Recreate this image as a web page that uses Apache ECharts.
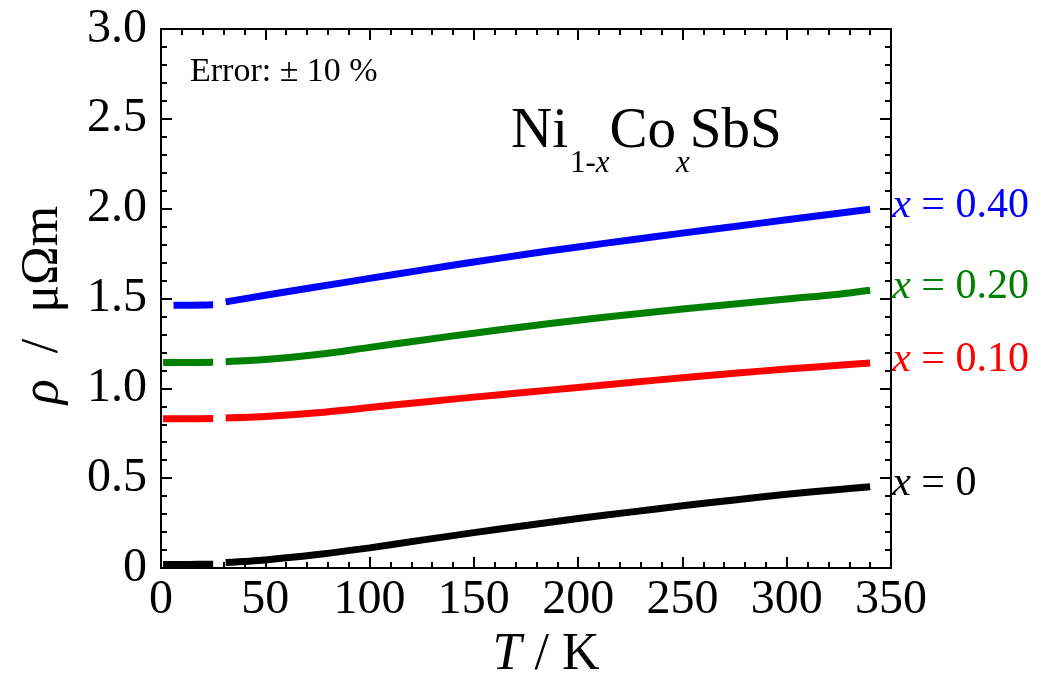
<!DOCTYPE html>
<html>
<head>
<meta charset="utf-8">
<script src="https://cdn.jsdelivr.net/npm/echarts@6/dist/echarts.min.js"></script>
<style>
  html, body { margin: 0; padding: 0; background: #fff; }
  #chart { width: 1041px; height: 686px; }
</style>
</head>
<body>
<div id="chart"></div>
<script>
// Temperature grids (K): a short low-temperature run and the main sweep
const lowT = [1, 13, 25];
const lowTBlue = [6, 15, 25];
const highT = [31, 50, 75, 100, 125, 150, 175, 200, 225, 250, 275, 300, 325, 340];

// Resistivity (µΩm) for Ni(1-x)Co(x)SbS
const rhoX0Low = [0.020, 0.020, 0.021];
const rhoX0High = [0.031, 0.045, 0.075, 0.112, 0.155, 0.197, 0.237, 0.275, 0.311, 0.346, 0.379, 0.410, 0.437, 0.452];
const rhoX10Low = [0.831, 0.831, 0.832];
const rhoX10High = [0.835, 0.843, 0.864, 0.893, 0.923, 0.951, 0.978, 1.005, 1.032, 1.059, 1.084, 1.107, 1.128, 1.141];
const rhoX20Low = [1.144, 1.144, 1.145];
const rhoX20High = [1.148, 1.160, 1.188, 1.228, 1.268, 1.307, 1.344, 1.379, 1.411, 1.441, 1.469, 1.497, 1.524, 1.546];
const rhoX40Low = [1.463, 1.463, 1.465];
const rhoX40High = [1.481, 1.518, 1.565, 1.612, 1.658, 1.703, 1.746, 1.787, 1.826, 1.864, 1.901, 1.938, 1.975, 1.997];

// Composition labels and colours
const compositions = ['0', '0.10', '0.20', '0.40'];
const colors = ['#000000', '#ff0000', '#008000', '#0000ff'];

// Tick labels
const xTickLabels = ['0', '50', '100', '150', '200', '250', '300', '350'];
const yTickLabels = ['0', '0.5', '1.0', '1.5', '2.0', '2.5', '3.0'];

const FONT = "'Liberation Serif', 'Times New Roman', serif";

function pairs(ts, vs) { return ts.map((t, i) => [t, vs[i]]); }
function withGap(lt, lv, ht, hv) {
  // null point splits the low-temperature run from the main sweep
  return pairs(lt, lv).concat([[28, null]], pairs(ht, hv));
}

const seriesData = [
  withGap(lowT, rhoX0Low, highT, rhoX0High),
  withGap(lowT, rhoX10Low, highT, rhoX10High),
  withGap(lowT, rhoX20Low, highT, rhoX20High),
  withGap(lowTBlue, rhoX40Low, highT, rhoX40High)
];

const labelSize = 42;
const series = seriesData.map((d, i) => ({
  type: 'line',
  data: d,
  xAxisIndex: 0,
  yAxisIndex: 0,
  showSymbol: false,
  symbol: 'none',
  smooth: 0.3,
  connectNulls: false,
  lineStyle: { color: colors[i], width: 7, cap: 'butt' },
  endLabel: {
    show: true,
    distance: 22,
    offset: [0, -3],
    formatter: '{i|x} = ' + compositions[i],
    color: colors[i],
    fontFamily: FONT,
    fontSize: labelSize,
    rich: {
      i: { fontStyle: 'italic', fontFamily: FONT, fontSize: labelSize, color: colors[i] }
    }
  }
}));

const axisLineStyle = { color: '#000', width: 2 };
function xAxisDef(pos, showLabels) {
  return {
    type: 'value', position: pos, min: 0, max: 350, interval: 50,
    axisLine: { show: true, onZero: false, lineStyle: axisLineStyle },
    axisTick: { show: true, inside: true, length: 11, lineStyle: { color: '#000', width: 2 } },
    minorTick: { show: true, splitNumber: 5, length: 6, lineStyle: { color: '#000', width: 2 } },
    splitLine: { show: false },
    axisLabel: {
      show: showLabels, color: '#000', fontFamily: FONT, fontSize: 48, margin: 8,
      formatter: v => xTickLabels[Math.round(v / 50)]
    }
  };
}
function yAxisDef(pos, showLabels) {
  return {
    type: 'value', position: pos, min: 0, max: 3, interval: 0.5,
    axisLine: { show: true, onZero: false, lineStyle: axisLineStyle },
    axisTick: { show: true, inside: true, length: 11, lineStyle: { color: '#000', width: 2 } },
    minorTick: { show: true, splitNumber: 5, length: 6, lineStyle: { color: '#000', width: 2 } },
    splitLine: { show: false },
    axisLabel: {
      show: showLabels, color: '#000', fontFamily: FONT, fontSize: 48, margin: 14,
      formatter: v => yTickLabels[Math.round(v / 0.5)]
    }
  };
}

const nameSize = 52;
const xMain = xAxisDef('bottom', true);
xMain.name = '{i|T} / K';
xMain.nameLocation = 'middle';
xMain.nameGap = 56;
xMain.nameTextStyle = {
  color: '#000', fontFamily: FONT, fontSize: nameSize, padding: [0, 0, 0, 40],
  rich: { i: { fontStyle: 'italic', fontFamily: FONT, fontSize: nameSize, color: '#000' } }
};
const yMain = yAxisDef('left', true);
yMain.name = '{i|ρ}  /  μΩm';
yMain.nameLocation = 'middle';
yMain.nameGap = 92;
yMain.nameTextStyle = {
  color: '#000', fontFamily: FONT, fontSize: nameSize, padding: [0, 13, 0, 0],
  rich: { i: { fontStyle: 'italic', fontFamily: FONT, fontSize: nameSize, color: '#000' } }
};

const titleSize = 57;
const subSize = 31;
const chart = echarts.init(document.getElementById('chart'), null, { renderer: 'canvas' });
chart.setOption({
  animation: false,
  backgroundColor: '#fff',
  grid: { left: 161, right: 150, top: 29, bottom: 118, containLabel: false },
  title: [
    {
      text: 'Error: ± 10 %',
      left: 185, top: 50,
      textStyle: { color: '#000', fontFamily: FONT, fontSize: 34, fontWeight: 'normal' }
    },
    {
      text: '{m|Ni}{s|1-}{si|x}{m|Co}{si|x}{m|SbS}',
      left: 506, top: 99,
      textStyle: {
        color: '#000', fontFamily: FONT, fontSize: titleSize, fontWeight: 'normal',
        rich: {
          m: { fontFamily: FONT, fontSize: titleSize, lineHeight: titleSize, verticalAlign: 'top', color: '#000' },
          s: { fontFamily: FONT, fontSize: subSize, lineHeight: subSize, padding: [44, 0, 0, 2], verticalAlign: 'top', color: '#000' },
          si: { fontFamily: FONT, fontSize: subSize, fontStyle: 'italic', lineHeight: subSize, padding: [44, 0, 0, 0], verticalAlign: 'top', color: '#000' }
        }
      }
    }
  ],
  xAxis: [xMain, xAxisDef('top', false)],
  yAxis: [yMain, yAxisDef('right', false)],
  series: series
});
</script>
</body>
</html>
